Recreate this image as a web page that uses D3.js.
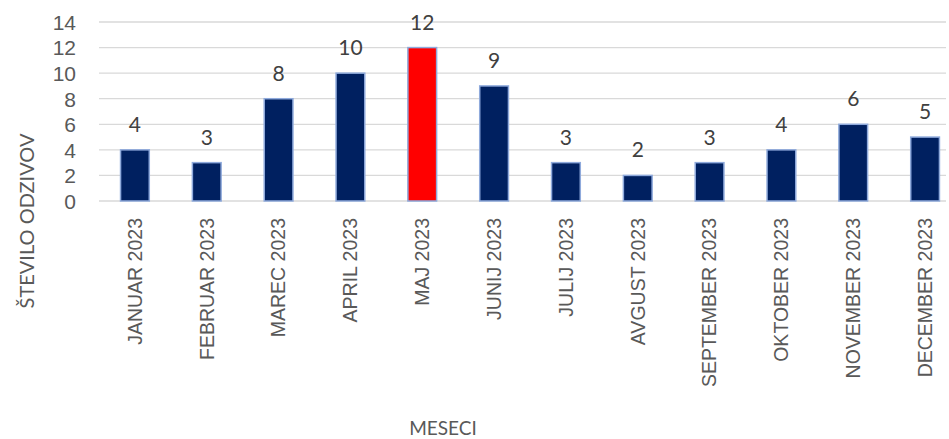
<!DOCTYPE html>
<html>
<head>
<meta charset="utf-8">
<script src="https://cdn.jsdelivr.net/npm/d3@7"></script>
<style>
    body { margin: 0; background: #fff; }
    svg { display: block; font-family: Lato, "Open Sans", sans-serif; }
</style>
</head>
<body>
<svg id="chart-svg" width="949" height="439"></svg>
<script>
var months = ["JANUAR 2023", "FEBRUAR 2023", "MAREC 2023", "APRIL 2023", "MAJ 2023", "JUNIJ 2023",
    "JULIJ 2023", "AVGUST 2023", "SEPTEMBER 2023", "OKTOBER 2023", "NOVEMBER 2023", "DECEMBER 2023"];
var responses = [4, 3, 8, 10, 12, 9, 3, 2, 3, 4, 6, 5];
var yTicks = [0, 2, 4, 6, 8, 10, 12, 14];
var highlightMonth = "MAJ 2023";

var chart_svg = d3.select("#chart-svg");

/** Scales **/
var xScale = d3.scaleBand()
    .domain(months)
    .range([99, 961])
    .paddingInner(0.6)
    .paddingOuter(0.3);
var yScale = d3.scaleLinear()
    .domain([0, 14])
    .range([201, 22]);

/** Gridlines **/
chart_svg.append("g")
    .selectAll("line")
    .data(yTicks)
    .enter().append("line")
    .attr("x1", 99)
    .attr("x2", 946)
    .attr("y1", function(d){ return yScale(d); })
    .attr("y2", function(d){ return yScale(d); })
    .attr("stroke", "#d9d9d9")
    .attr("stroke-width", 1.3);

/** Y axis **/
var yAxis = d3.axisLeft(yScale).tickValues(yTicks).tickSize(0).tickPadding(0);
var yg = chart_svg.append("g")
    .attr("transform", "translate(76,0)")
    .call(yAxis);
yg.select(".domain").remove();
yg.selectAll("text")
    .style("font-size", "21px")
    .style("fill", "#595959")
    .attr("dy", "0.35em");

/** Bars **/
chart_svg.append("g")
    .selectAll("rect")
    .data(responses)
    .enter().append("rect")
    .attr("x", function(d, i){ return xScale(months[i]); })
    .attr("y", function(d){ return yScale(d); })
    .attr("width", xScale.bandwidth())
    .attr("height", function(d){ return yScale(0) - yScale(d); })
    .attr("fill", function(d, i){ return months[i] === highlightMonth ? "#ff0000" : "#002060"; })
    .attr("stroke", "#8faadc")
    .attr("stroke-width", 1.5);

/** Value labels **/
chart_svg.append("g")
    .selectAll("text")
    .data(responses)
    .enter().append("text")
    .text(function(d){ return d; })
    .attr("x", function(d, i){ return xScale(months[i]) + xScale.bandwidth() / 2; })
    .attr("y", function(d){ return yScale(d) - 18; })
    .style("text-anchor", "middle")
    .style("font-size", "21px")
    .style("fill", "#404040");

/** X axis labels **/
var xAxis = d3.axisBottom(xScale).tickSize(0).tickPadding(0);
var xg = chart_svg.append("g")
    .attr("transform", "translate(0,212)")
    .call(xAxis);
xg.select(".domain").remove();
xg.selectAll("text")
    .attr("transform", "rotate(-90)")
    .attr("x", -6)
    .attr("y", 0)
    .attr("dy", "0.35em")
    .style("text-anchor", "end")
    .style("font-size", "19.5px")
    .style("fill", "#595959");

/** Axis titles **/
chart_svg.append("text")
    .text("ŠTEVILO ODZIVOV")
    .attr("transform", "translate(34,221) rotate(-90)")
    .style("text-anchor", "middle")
    .style("font-size", "20px")
    .style("fill", "#595959");
chart_svg.append("text")
    .text("MESECI")
    .attr("x", 443)
    .attr("y", 435)
    .style("text-anchor", "middle")
    .style("font-size", "19px")
    .style("fill", "#595959");
</script>
</body>
</html>
